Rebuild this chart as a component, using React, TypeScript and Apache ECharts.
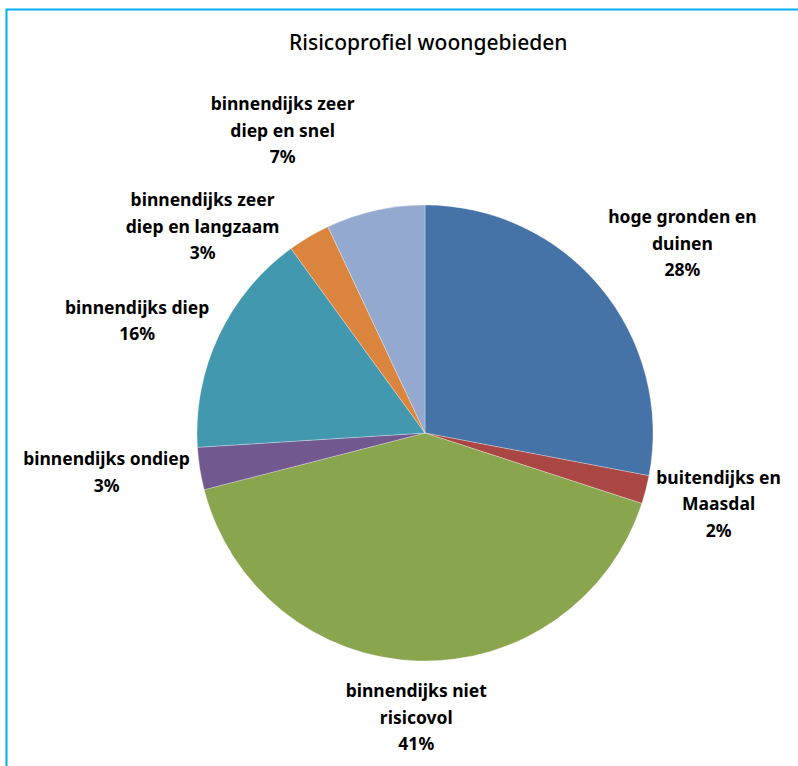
import React, { useEffect, useRef } from "react";
import * as echarts from "echarts";

const categories = [
  "hoge gronden en\nduinen",
  "buitendijks en\nMaasdal",
  "binnendijks niet\nrisicovol",
  "binnendijks ondiep",
  "binnendijks diep",
  "binnendijks zeer\ndiep en langzaam",
  "binnendijks zeer\ndiep en snel",
];
const values = [28, 2, 41, 3, 16, 3, 7];
const colors = ["#4572A7", "#AA4643", "#89A54E", "#71588F", "#4198AF", "#DB843D", "#93A9CF"];
const titleText = "Risicoprofiel woongebieden";

// label placement tweaks (style only)
const labelNudge: number[][] = [
  [12, 13],
  [-3, -6],
  [0, 6],
  [0, -12],
  [-5, 20],
  [-65, 59],
  [-79, -20],
];

const CX = 425;
const CY = 433;
const R = 228;
const GAP = 8;
const LABEL_FONT_SIZE = 17.5;
const LABEL_LINE_H = 26.5;
const LABEL_FONT = `bold ${LABEL_FONT_SIZE}px "Noto Sans"`;

export default function App() {
  const ref = useRef<HTMLDivElement>(null);
  useEffect(() => {
    document.body.style.margin = "0";
    const chart = echarts.init(ref.current!, undefined, { renderer: "svg" });
    const total = values.reduce((a, b) => a + b, 0);
    const cum: number[] = [];
    let acc = 0;
    values.forEach((v) => {
      cum.push(acc + v / 2);
      acc += v;
    });
    const ctx = document.createElement("canvas").getContext("2d")!;
    ctx.font = LABEL_FONT;
    const labelText = (i: number) => `${categories[i]}\n${Math.round((values[i] / total) * 100)}%`;
    const labelSize = (i: number) => {
      const lines = labelText(i).split("\n");
      const w = Math.max(...lines.map((l) => ctx.measureText(l).width));
      return { w, h: lines.length * LABEL_LINE_H };
    };
    chart.setOption({
      animation: false,
      backgroundColor: "#ffffff",
      title: {
        text: titleText,
        left: 284,
        top: 26,
        textStyle: {
          fontFamily: "Noto Sans",
          fontSize: 21,
          fontWeight: 500,
          color: "#000",
        },
      },
      graphic: [
        {
          type: "polyline",
          shape: { points: [[6.5, 766], [6.5, 9.5], [798, 9.5]] },
          style: { stroke: "#00B0F0", lineWidth: 2, fill: "none" },
          silent: true,
        },
      ],
      series: [
        {
          type: "pie",
          center: [CX, CY],
          radius: R,
          startAngle: 90,
          clockwise: true,
          data: categories.map((c, i) => ({ name: c, value: values[i], itemStyle: { color: colors[i] } })),
          itemStyle: { borderColor: "rgba(255,255,255,0.6)", borderWidth: 0.5 },
          label: {
            show: true,
            position: "outside",
            formatter: (p: any) => labelText(p.dataIndex),
            fontFamily: "Noto Sans",
            fontSize: LABEL_FONT_SIZE,
            fontWeight: "bold",
            color: "#000",
            lineHeight: LABEL_LINE_H,
            align: "center",
            overflow: "none",
          },
          labelLine: { show: false },
          labelLayout: (params: any) => {
            const i = params.dataIndex;
            const theta = (cum[i] / total) * Math.PI * 2;
            const ux = Math.sin(theta);
            const uy = -Math.cos(theta);
            const { w, h } = labelSize(i);
            const ext = Math.abs(ux) * (w / 2) + Math.abs(uy) * (h / 2);
            const d = R + GAP + ext;
            return {
              x: CX + ux * d + labelNudge[i][0],
              y: CY + uy * d + labelNudge[i][1],
              align: "center",
              verticalAlign: "middle",
              width: w + 4,
            };
          },
        },
      ],
    });
    return () => chart.dispose();
  }, []);
  return <div ref={ref} style={{ position: "absolute", left: 0, top: 0, width: 798, height: 766 }} />;
}
